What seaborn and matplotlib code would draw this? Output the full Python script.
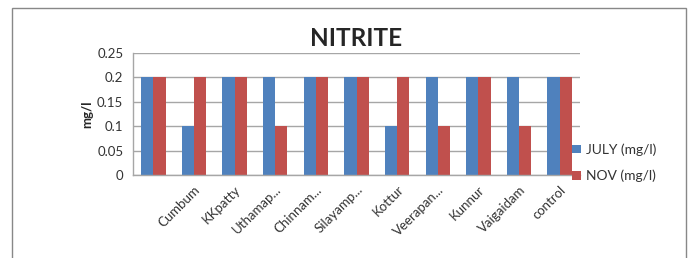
import matplotlib
matplotlib.use("Agg")
import matplotlib.pyplot as plt
import seaborn as sns
import pandas as pd
from matplotlib.patches import Rectangle

sites = ["", "Cumbum", "KKpatty", "Uthamap...", "Chinnam...", "Silayamp...",
         "Kottur", "Veerapan...", "Kunnur", "Vaigaidam", "control"]
july = [0.2, 0.1, 0.2, 0.2, 0.2, 0.2, 0.1, 0.2, 0.2, 0.2, 0.2]
nov = [0.2, 0.2, 0.2, 0.1, 0.2, 0.2, 0.2, 0.1, 0.2, 0.1, 0.2]
series = ["JULY (mg/l)", "NOV (mg/l)"]
yticks = [0, 0.05, 0.1, 0.15, 0.2, 0.25]
yticklabels = ["0", "0.05", "0.1", "0.15", "0.2", "0.25"]

df = pd.DataFrame({
    "site": sites * 2,
    "value": july + nov,
    "series": [series[0]] * len(sites) + [series[1]] * len(sites),
})

sns.set_style("white")
plt.rcParams["font.family"] = ["Lato", "DejaVu Sans"]

fig = plt.figure(figsize=(6.88, 2.58), dpi=100)
ax = fig.add_axes([133 / 688, 1 - 175 / 258, (580 - 133) / 688, (175 - 53) / 258])

sns.barplot(data=df, x="site", y="value", hue="series", order=sites,
            hue_order=series, palette=["#4F81BD", "#C0504D"], width=0.6,
            gap=0, ax=ax, errorbar=None, saturation=1, linewidth=0)

ax.set_xlim(-0.5, len(sites) - 0.5)
ax.set_ylim(0, 0.25)
ax.set_yticks(yticks)
ax.set_yticklabels(yticklabels, fontsize=9.5, color="#333333")
ax.set_xticks(range(len(sites)))
ax.set_xticklabels(sites, rotation=45, ha="right", rotation_mode="anchor",
                   fontsize=9.5, color="#333333")
ax.tick_params(axis="x", length=0, pad=6)
ax.tick_params(axis="y", length=0, pad=7)
ax.set_xlabel("")
ax.set_ylabel("mg/l", fontsize=9.5, fontweight="bold", labelpad=3)

ax.yaxis.grid(True, color="#A6A6A6", linewidth=1)
ax.set_axisbelow(True)
for s in ["top", "right"]:
    ax.spines[s].set_visible(False)
for s in ["left", "bottom"]:
    ax.spines[s].set_color("#A6A6A6")
    ax.spines[s].set_linewidth(1)

# category boundary ticks on x axis
ax.set_xticks([i - 0.5 for i in range(len(sites) + 1)], minor=True)
ax.tick_params(axis="x", which="minor", length=3, color="#A6A6A6", direction="out")

ax.set_title("NITRITE", fontsize=17.5, fontweight="bold", pad=5)

leg = ax.legend(loc="center left", bbox_to_anchor=(0.955, 0.1), frameon=False,
                fontsize=10, handlelength=0.6, handleheight=0.6,
                handletextpad=0.4, labelspacing=1.0)
for t in leg.get_texts():
    t.set_color("#333333")

fig.patches.append(Rectangle((12 / 688, -0.05), (686 - 12) / 688, 1.05 - 8 / 258,
                             transform=fig.transFigure, fill=False,
                             edgecolor="#888888", linewidth=1))

fig.savefig("out.png", dpi=100)
